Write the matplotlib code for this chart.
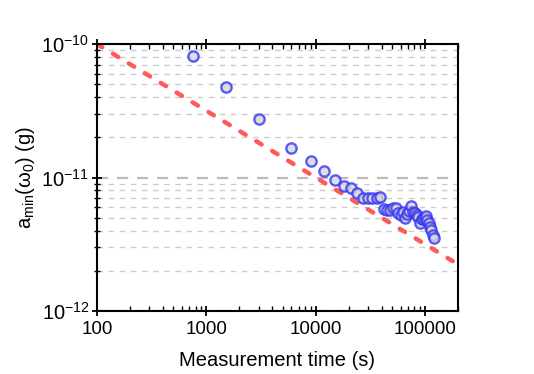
import numpy as np
import matplotlib
matplotlib.use("Agg")
import matplotlib.pyplot as plt
from matplotlib.ticker import LogLocator, NullFormatter, FixedLocator

plt.rcParams['font.family'] = ['Liberation Sans', 'DejaVu Sans']
plt.rcParams['mathtext.fontset'] = 'custom'
plt.rcParams['mathtext.rm'] = 'Liberation Sans'
plt.rcParams['mathtext.it'] = 'Liberation Sans:italic'
plt.rcParams['mathtext.bf'] = 'Liberation Sans:bold'

# Measurement times (s)
times = [750, 1500, 3000, 6000, 9000, 12000, 15000, 18000, 21000, 24000, 27000,
         30000, 33000, 36000, 39000, 42000, 45000, 48000, 51000, 54000, 57000,
         60000, 63000, 66000, 69000, 72000, 75000, 78000, 81000, 84000, 87000,
         90000, 93000, 96000, 99000, 102000, 105000, 108000, 111000, 114000,
         117000, 120000]
# Minimum detectable acceleration (g)
amin = [8.17e-11, 4.74e-11, 2.74e-11, 1.66e-11, 1.34e-11, 1.125e-11, 9.57e-12,
        8.69e-12, 8.30e-12, 7.62e-12, 6.99e-12, 6.99e-12, 7.03e-12, 7.08e-12,
        7.18e-12, 5.81e-12, 5.71e-12, 5.67e-12, 5.96e-12, 5.96e-12, 5.42e-12,
        5.24e-12, 5.52e-12, 4.98e-12, 5.33e-12, 5.60e-12, 6.16e-12, 5.56e-12,
        5.42e-12, 5.24e-12, 5.10e-12, 4.56e-12, 4.89e-12, 4.89e-12, 4.98e-12,
        5.15e-12, 4.81e-12, 4.56e-12, 4.26e-12, 4.04e-12, 3.71e-12, 3.52e-12]
# Reference t^-1/2 line
ref_t = [100, 200000]
ref_a = [1e-10, 1e-10 * np.sqrt(100 / 200000)]

fig = plt.figure(figsize=(5.34, 3.74), dpi=100)
ax = fig.add_axes([0.1816, 0.1684, 0.6761, 0.714])

ax.set_xscale('log')
ax.set_yscale('log')
ax.set_xlim(100, 200000)
ax.set_ylim(1e-12, 1e-10)

# grid
ax.yaxis.set_minor_locator(LogLocator(base=10, subs=np.arange(2, 10)))
ax.yaxis.set_minor_formatter(NullFormatter())
ax.grid(which='minor', axis='y', color='#cccccc', linestyle=(0, (4, 4)), linewidth=1.0)
ax.grid(which='major', axis='y', color='#bbbbbb', linestyle=(0, (5, 4)), linewidth=1.6)
ax.grid(which='both', axis='x', visible=False)
ax.set_axisbelow(True)

ax.plot(ref_t, ref_a, color='#ff5a5a', linewidth=3.2, linestyle=(0, (1.4, 2.8)),
        dash_capstyle='round', zorder=2)
ax.plot(times, amin, linestyle='none', marker='o', markersize=7.4,
        markerfacecolor='#d6d6d6', markeredgecolor='#3535f5', markeredgewidth=1.7,
        alpha=0.8, zorder=3)

ax.xaxis.set_major_locator(FixedLocator([100, 1000, 10000, 100000]))
ax.set_xticklabels(['100', '1000', '10000', '100000'])
ax.xaxis.set_minor_locator(LogLocator(base=10, subs=np.arange(2, 10)))
ax.xaxis.set_minor_formatter(NullFormatter())

ax.set_yticks([1e-12, 1e-11, 1e-10])
ax.set_yticklabels([r'10$^{-12}$', r'10$^{-11}$', r'10$^{-10}$'])

for s in ['left', 'bottom', 'top', 'right']:
    ax.spines[s].set_linewidth(1.5)

ax.tick_params(axis='x', which='major', direction='inout', length=7, width=1.3,
               top=True, labelsize=13.5, pad=4)
ax.tick_params(axis='x', which='minor', direction='in', length=3.5, width=1.0, top=True)
ax.tick_params(axis='y', which='major', direction='inout', length=7, width=1.3,
               right=False, labelsize=14.5, pad=2)
ax.tick_params(axis='y', which='minor', direction='inout', length=4, width=1.0, right=False)

ax.set_xlabel('Measurement time (s)', fontsize=14.5, labelpad=9)
ax.set_ylabel(r'a$_{\mathrm{min}}$(ω$_0$) (g)', fontsize=14.5, labelpad=3)

fig.savefig('out.png', dpi=100)
